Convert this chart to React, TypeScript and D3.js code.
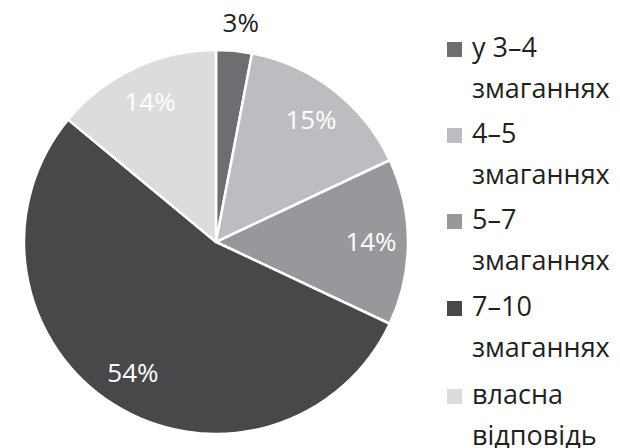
import React from "react";
import * as d3 from "d3";

const categories = ["у 3–4 змаганнях", "4–5 змаганнях", "5–7 змаганнях", "7–10 змаганнях", "власна відповідь"];
const legendLines = [["у 3–4", "змаганнях"], ["4–5", "змаганнях"], ["5–7", "змаганнях"], ["7–10", "змаганнях"], ["власна", "відповідь"]];
const values = [3, 15, 14, 54, 14];
const colors = ["#6d6e71", "#bcbdc0", "#97989b", "#47484a", "#dbdcdd"];

const W = 620, H = 448;
const cx = 216, cy = 242, R = 192;
const legendBaselines = [57, 143, 229, 316, 404];
const lineGap = 41;

export default function App() {
  const pie = d3.pie<number>().sort(null).value((d) => d)(values);
  const arc = d3.arc<d3.PieArcDatum<number>>().innerRadius(0).outerRadius(R);
  const labelArc = d3.arc<d3.PieArcDatum<number>>().innerRadius(155).outerRadius(155);
  const outerArc = d3.arc<d3.PieArcDatum<number>>().innerRadius(220).outerRadius(220);
  const font = "'Open Sans', sans-serif";
  return (
    <svg width={W} height={H} style={{ position: "absolute", left: 0, top: 0, background: "#fff" }}>
      <g transform={`translate(${cx},${cy})`}>
        {pie.map((p, i) => (
          <path key={i} d={arc(p) || ""} fill={colors[i]} stroke="#fff" strokeWidth={2.5} strokeLinejoin="round" />
        ))}
        {pie.map((p, i) => {
          const outside = values[i] < 5;
          const [x, y] = outside ? outerArc.centroid(p) : labelArc.centroid(p);
          return (
            <text key={"l" + i} x={x + (outside ? 4 : 0)} y={y} dy="0.35em" textAnchor="middle" fontFamily={font} fontSize={26}
              fill={outside ? "#231f20" : "#fff"}>
              {values[i]}%
            </text>
          );
        })}
      </g>
      {categories.map((c, i) => (
        <g key={c}>
          <rect x={447} y={legendBaselines[i] - 15} width={15} height={15} fill={colors[i]} />
          {legendLines[i].map((t, j) => (
            <text key={j} x={472} y={legendBaselines[i] + j * lineGap} fontFamily={font} fontSize={27} fill="#231f20">
              {t}
            </text>
          ))}
        </g>
      ))}
    </svg>
  );
}
